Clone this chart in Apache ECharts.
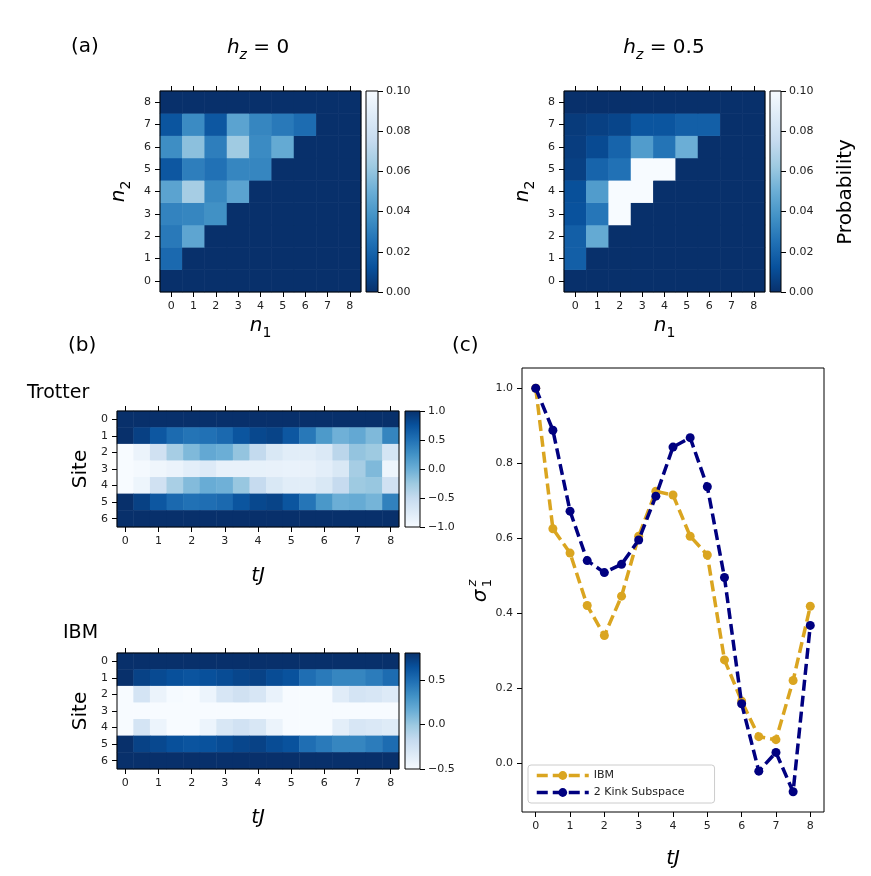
<!DOCTYPE html>
<html>
<head>
<meta charset="utf-8">
<script src="https://cdn.jsdelivr.net/npm/echarts@6.0.0/dist/echarts.min.js"></script>
<style>
  html, body { margin: 0; padding: 0; background: #fff; }
  #chart { width: 871px; height: 876px; }
</style>
</head>
<body>
<div id="chart"></div>
<script>
// ---- data ----
var nCats = ['0', '1', '2', '3', '4', '5', '6', '7', '8'];

// rows are n2 = 0..8, columns n1 = 0..8
var probHz0 = [
  [0, 0, 0, 0, 0, 0, 0, 0, 0],
  [0.022, 0, 0, 0, 0, 0, 0, 0, 0],
  [0.028, 0.046, 0, 0, 0, 0, 0, 0, 0],
  [0.032, 0.033, 0.037, 0, 0, 0, 0, 0, 0],
  [0.045, 0.065, 0.034, 0.045, 0, 0, 0, 0, 0],
  [0.015, 0.030, 0.025, 0.033, 0.033, 0, 0, 0, 0],
  [0.036, 0.058, 0.030, 0.063, 0.035, 0.048, 0, 0, 0],
  [0.014, 0.035, 0.015, 0.045, 0.033, 0.028, 0.023, 0, 0],
  [0, 0, 0, 0, 0, 0, 0, 0, 0]
];
var probHz05 = [
  [0, 0, 0, 0, 0, 0, 0, 0, 0],
  [0.018, 0, 0, 0, 0, 0, 0, 0, 0],
  [0.018, 0.048, 0, 0, 0, 0, 0, 0, 0],
  [0.013, 0.027, 0.1, 0, 0, 0, 0, 0, 0],
  [0.012, 0.042, 0.1, 0.1, 0, 0, 0, 0, 0],
  [0.006, 0.020, 0.025, 0.1, 0.1, 0, 0, 0, 0],
  [0.005, 0.010, 0.020, 0.042, 0.026, 0.050, 0, 0, 0],
  [0.004, 0.006, 0.008, 0.014, 0.014, 0.018, 0.018, 0, 0],
  [0, 0, 0, 0, 0, 0, 0, 0, 0]
];

var tJCats = ['0', '0.5', '1', '1.5', '2', '2.5', '3', '3.5', '4', '4.5', '5', '5.5', '6', '6.5', '7', '7.5', '8'];
var siteCats = ['0', '1', '2', '3', '4', '5', '6'];

// rows are site 0..6, columns tJ
var trotter = [
  [1, 1, 1, 1, 1, 1, 1, 1, 1, 1, 1, 1, 1, 1, 1, 1, 1],
  [1.0, 0.88, 0.70, 0.55, 0.48, 0.50, 0.56, 0.72, 0.82, 0.85, 0.70, 0.45, 0.18, -0.02, 0.05, -0.10, 0.35],
  [-1.0, -0.88, -0.60, -0.30, -0.10, 0.05, 0.0, -0.20, -0.48, -0.70, -0.78, -0.78, -0.72, -0.43, -0.20, -0.25, -0.65],
  [-1.0, -0.97, -0.92, -0.88, -0.80, -0.74, -0.85, -0.85, -0.84, -0.85, -0.86, -0.85, -0.80, -0.70, -0.30, -0.10, -0.90],
  [-1.0, -0.90, -0.60, -0.32, -0.12, 0.02, -0.02, -0.22, -0.50, -0.70, -0.78, -0.78, -0.70, -0.50, -0.25, -0.22, -0.60],
  [1.0, 0.87, 0.70, 0.56, 0.50, 0.52, 0.56, 0.72, 0.82, 0.85, 0.72, 0.47, 0.20, 0.0, 0.03, -0.05, 0.38],
  [1, 1, 1, 1, 1, 1, 1, 1, 1, 1, 1, 1, 1, 1, 1, 1, 1]
];
var ibm = [
  [0.8, 0.8, 0.8, 0.8, 0.8, 0.8, 0.8, 0.8, 0.8, 0.8, 0.8, 0.8, 0.8, 0.8, 0.8, 0.8, 0.8],
  [0.80, 0.71, 0.67, 0.64, 0.62, 0.64, 0.66, 0.69, 0.71, 0.66, 0.63, 0.49, 0.43, 0.37, 0.37, 0.42, 0.50],
  [-0.50, -0.27, -0.42, -0.49, -0.50, -0.43, -0.29, -0.24, -0.29, -0.41, -0.50, -0.50, -0.50, -0.35, -0.27, -0.29, -0.33],
  [-0.5, -0.5, -0.5, -0.5, -0.5, -0.5, -0.5, -0.5, -0.5, -0.5, -0.5, -0.5, -0.5, -0.5, -0.5, -0.5, -0.5],
  [-0.50, -0.27, -0.43, -0.50, -0.50, -0.43, -0.30, -0.25, -0.30, -0.42, -0.50, -0.50, -0.50, -0.37, -0.29, -0.31, -0.34],
  [0.80, 0.71, 0.68, 0.64, 0.62, 0.63, 0.66, 0.69, 0.71, 0.66, 0.63, 0.49, 0.43, 0.37, 0.37, 0.42, 0.50],
  [0.8, 0.8, 0.8, 0.8, 0.8, 0.8, 0.8, 0.8, 0.8, 0.8, 0.8, 0.8, 0.8, 0.8, 0.8, 0.8, 0.8]
];

var tJ = [0, 0.5, 1, 1.5, 2, 2.5, 3, 3.5, 4, 4.5, 5, 5.5, 6, 6.5, 7, 7.5, 8];
var sigmaIBM = [1.0, 0.625, 0.56, 0.42, 0.34, 0.445, 0.605, 0.725, 0.715, 0.605, 0.555, 0.275, 0.165, 0.07, 0.062, 0.22, 0.418];
var sigmaKink = [1.0, 0.888, 0.672, 0.54, 0.508, 0.53, 0.595, 0.712, 0.843, 0.868, 0.737, 0.495, 0.158, -0.022, 0.028, -0.077, 0.367];

var probTicks = [0, 0.02, 0.04, 0.06, 0.08, 0.1];
var trotterTicks = [-1, -0.5, 0, 0.5, 1];
var ibmTicks = [-0.5, 0, 0.5];
var xTicks = [0, 1, 2, 3, 4, 5, 6, 7, 8];
var yTicks = [0, 0.2, 0.4, 0.6, 0.8, 1.0];

// matplotlib "Blues"
var BLUES = ['#f7fbff', '#deebf7', '#c6dbef', '#9ecae1', '#6baed6', '#4292c6', '#2171b5', '#08519c', '#08306b'];
var BLUES_R = BLUES.slice().reverse();

function cells(mat) {
  var out = [];
  mat.forEach(function (row, r) {
    row.forEach(function (v, c) { out.push([c, r, v]); });
  });
  return out;
}

function gradient(colors) {
  // colors listed top -> bottom
  return {
    type: 'linear', x: 0, y: 0, x2: 0, y2: 1,
    colorStops: colors.map(function (c, i) { return { offset: i / (colors.length - 1), color: c }; })
  };
}

function minus(s) { return s.replace('-', '\u2212'); }

var FONT = 'DejaVu Sans';
var lineCol = '#000';
var labelStyle = { fontSize: 11, color: '#222', fontFamily: FONT };
var tickStyle = { show: true, length: 5, lineStyle: { color: lineCol, width: 1 } };

var subRich = {
  i: { fontSize: 20, fontStyle: 'italic', fontFamily: FONT, color: '#000', lineHeight: 22, verticalAlign: 'top' },
  s: { fontSize: 14, fontFamily: FONT, color: '#000', lineHeight: 14, verticalAlign: 'top', padding: [10, 0, 0, 0] },
  si: { fontSize: 14, fontStyle: 'italic', fontFamily: FONT, color: '#000', lineHeight: 14, verticalAlign: 'top', padding: [10, 0, 0, 0] },
  w: { fontSize: 20, fontFamily: FONT, color: '#000', lineHeight: 22, verticalAlign: 'top' }
};

var boxGrid = function (l, t, w, h) {
  return { left: l, top: t, width: w, height: h, show: true, borderColor: lineCol, borderWidth: 1,
           backgroundColor: 'transparent', z: 5, containLabel: false };
};
var cbGrid = function (l, t, w, h, colors) {
  return { left: l, top: t, width: w, height: h, show: true, borderColor: lineCol, borderWidth: 1,
           backgroundColor: gradient(colors), containLabel: false };
};

var grids = [
  boxGrid(160, 91, 201, 201),            // 0 hz=0
  cbGrid(366, 91, 12, 201, BLUES),       // 1
  boxGrid(564, 91, 201, 201),            // 2 hz=0.5
  cbGrid(770, 91, 11, 201, BLUES),       // 3
  boxGrid(117, 411, 282, 116),           // 4 trotter
  cbGrid(405, 411, 15, 116, BLUES_R),    // 5
  boxGrid(117, 653, 282, 116),           // 6 ibm
  cbGrid(405, 653, 15, 116, BLUES_R),    // 7
  { left: 522, top: 368, width: 302, height: 444, show: true, borderColor: lineCol, borderWidth: 1, containLabel: false } // 8 line
];

var xAxes = [];
var yAxes = [];

function heatAxes(g, xc, yc, every, inverse, xName, xGap, yName, yGap) {
  xAxes.push({
    gridIndex: g, type: 'category', data: xc, position: 'bottom', z: 6,
    axisLine: { show: false }, axisTick: Object.assign({ alignWithLabel: true, interval: every }, tickStyle),
    axisLabel: Object.assign({ interval: every, margin: 9 }, labelStyle), splitLine: { show: false },
    name: xName, nameLocation: 'middle', nameGap: xGap,
    nameTextStyle: { rich: subRich }
  });
  xAxes.push({
    gridIndex: g, type: 'category', data: xc, position: 'top', z: 6,
    axisLine: { show: false }, axisTick: Object.assign({ alignWithLabel: true, interval: every }, tickStyle),
    axisLabel: { show: false }, splitLine: { show: false }
  });
  yAxes.push({
    gridIndex: g, type: 'category', data: yc, inverse: inverse, z: 6,
    axisLine: { show: false }, axisTick: Object.assign({ alignWithLabel: true }, tickStyle),
    axisLabel: Object.assign({ margin: 9 }, labelStyle), splitLine: { show: false },
    name: yName, nameLocation: 'middle', nameGap: yGap, nameRotate: 90,
    nameTextStyle: { rich: subRich }
  });
}

function cbAxes(g, min, max, ticks, fmt) {
  xAxes.push({ gridIndex: g, type: 'value', show: false, min: 0, max: 1 });
  yAxes.push({
    gridIndex: g, type: 'value', position: 'right', min: min, max: max, z: 6,
    axisLine: { show: false, onZero: false }, splitLine: { show: false },
    axisTick: Object.assign({ customValues: ticks }, tickStyle),
    axisLabel: Object.assign({ customValues: ticks, margin: 8, formatter: fmt }, labelStyle)
  });
}

heatAxes(0, nCats, nCats, 0, false, '{i|n}{s|1}', 24, '{i|n}{s|2}', 29);
cbAxes(1, 0, 0.1, probTicks, function (v) { return v.toFixed(2); });
heatAxes(2, nCats, nCats, 0, false, '{i|n}{s|1}', 24, '{i|n}{s|2}', 29);
cbAxes(3, 0, 0.1, probTicks, function (v) { return v.toFixed(2); });
heatAxes(4, tJCats, siteCats, 1, true, '{i|tJ}', 39, '{w|Site}', 24);
cbAxes(5, -1, 1, trotterTicks, function (v) { return minus(v.toFixed(1)); });
heatAxes(6, tJCats, siteCats, 1, true, '{i|tJ}', 39, '{w|Site}', 24);
cbAxes(7, -0.5, 0.8, ibmTicks, function (v) { return minus(v.toFixed(1)); });

// line panel (c)
xAxes.push({
  gridIndex: 8, type: 'value', min: -0.4, max: 8.4, z: 6,
  axisLine: { show: false, onZero: false }, splitLine: { show: false },
  axisTick: Object.assign({ customValues: xTicks }, tickStyle),
  axisLabel: Object.assign({ customValues: xTicks, margin: 9 }, labelStyle),
  name: '{i|tJ}', nameLocation: 'middle', nameGap: 37, nameTextStyle: { rich: subRich }
});
yAxes.push({
  gridIndex: 8, type: 'value', min: -0.131, max: 1.054, z: 6,
  axisLine: { show: false, onZero: false }, splitLine: { show: false },
  axisTick: Object.assign({ customValues: yTicks }, tickStyle),
  axisLabel: Object.assign({ customValues: yTicks, margin: 9, formatter: function (v) { return v.toFixed(1); } }, labelStyle)
});

var series = [
  { type: 'heatmap', xAxisIndex: 0, yAxisIndex: 0, data: cells(probHz0), emphasis: { disabled: true } },
  { type: 'heatmap', xAxisIndex: 3, yAxisIndex: 2, data: cells(probHz05), emphasis: { disabled: true } },
  { type: 'heatmap', xAxisIndex: 6, yAxisIndex: 4, data: cells(trotter), emphasis: { disabled: true } },
  { type: 'heatmap', xAxisIndex: 9, yAxisIndex: 6, data: cells(ibm), emphasis: { disabled: true } },
  {
    name: 'IBM', type: 'line', xAxisIndex: 12, yAxisIndex: 8,
    data: tJ.map(function (t, i) { return [t, sigmaIBM[i]]; }),
    symbol: 'circle', symbolSize: 9, color: '#daa520',
    lineStyle: { width: 3.5, type: [11, 5], color: '#daa520' },
    itemStyle: { color: '#daa520' }, z: 3
  },
  {
    name: '2 Kink Subspace', type: 'line', xAxisIndex: 12, yAxisIndex: 8,
    data: tJ.map(function (t, i) { return [t, sigmaKink[i]]; }),
    symbol: 'circle', symbolSize: 9, color: '#000080',
    lineStyle: { width: 3.5, type: [11, 5], color: '#000080' },
    itemStyle: { color: '#000080' }, z: 4
  }
];

var visualMaps = [
  { type: 'continuous', show: false, seriesIndex: 0, dimension: 2, min: 0, max: 0.1, inRange: { color: BLUES_R } },
  { type: 'continuous', show: false, seriesIndex: 1, dimension: 2, min: 0, max: 0.1, inRange: { color: BLUES_R } },
  { type: 'continuous', show: false, seriesIndex: 2, dimension: 2, min: -1, max: 1, inRange: { color: BLUES } },
  { type: 'continuous', show: false, seriesIndex: 3, dimension: 2, min: -0.5, max: 0.8, inRange: { color: BLUES } }
];

function txt(x, y, text, size, align) {
  return { type: 'text', x: x, y: y, silent: true,
           style: { text: text, fontSize: size, fontFamily: FONT, fill: '#000', textAlign: align || 'left', textVerticalAlign: 'middle' } };
}
function richTxt(x, y, text) {
  return { type: 'text', x: x, y: y, silent: true,
           style: { text: text, rich: subRich, textAlign: 'center', textVerticalAlign: 'middle' } };
}

var graphics = [
  txt(71, 47, '(a)', 20),
  richTxt(258, 49, '{i|h}{si|z}{w| = 0}'),
  richTxt(664, 49, '{i|h}{si|z}{w| = 0.5}'),
  txt(68, 346, '(b)', 20),
  txt(452, 346, '(c)', 20),
  txt(27, 393, 'Trotter', 19),
  txt(63, 633, 'IBM', 19),
  { type: 'text', x: 846, y: 192, rotation: Math.PI / 2, silent: true,
    style: { text: 'Probability', fontSize: 20, fontFamily: FONT, fill: '#000', textAlign: 'center', textVerticalAlign: 'middle' } },
  { type: 'group', x: 481, y: 590, rotation: Math.PI / 2, silent: true, children: [
    { type: 'text', x: -6, y: 0, style: { text: '\u03c3', fontSize: 20, fontStyle: 'italic', fontFamily: FONT, fill: '#000', textAlign: 'center', textVerticalAlign: 'middle' } },
    { type: 'text', x: 7, y: -8, style: { text: 'z', fontSize: 13, fontStyle: 'italic', fontFamily: FONT, fill: '#000', textAlign: 'center', textVerticalAlign: 'middle' } },
    { type: 'text', x: 7, y: 7, style: { text: '1', fontSize: 13, fontFamily: FONT, fill: '#000', textAlign: 'center', textVerticalAlign: 'middle' } }
  ] }
];

var chart = echarts.init(document.getElementById('chart'), null, { renderer: 'canvas' });
chart.setOption({
  animation: false,
  backgroundColor: '#fff',
  textStyle: { fontFamily: FONT },
  grid: grids,
  xAxis: xAxes,
  yAxis: yAxes,
  visualMap: visualMaps,
  series: series,
  legend: {
    data: ['IBM', '2 Kink Subspace'], orient: 'vertical', left: 528, top: 765,
    itemWidth: 52, itemHeight: 11, itemGap: 6,
    lineStyle: { width: 3.5 },
    textStyle: { fontSize: 11, color: '#222', fontFamily: FONT },
    backgroundColor: '#fff', borderColor: '#ccc', borderWidth: 1, borderRadius: 3,
    padding: [5, 30, 5, 7], selectedMode: false
  },
  graphic: graphics
});
</script>
</body>
</html>
